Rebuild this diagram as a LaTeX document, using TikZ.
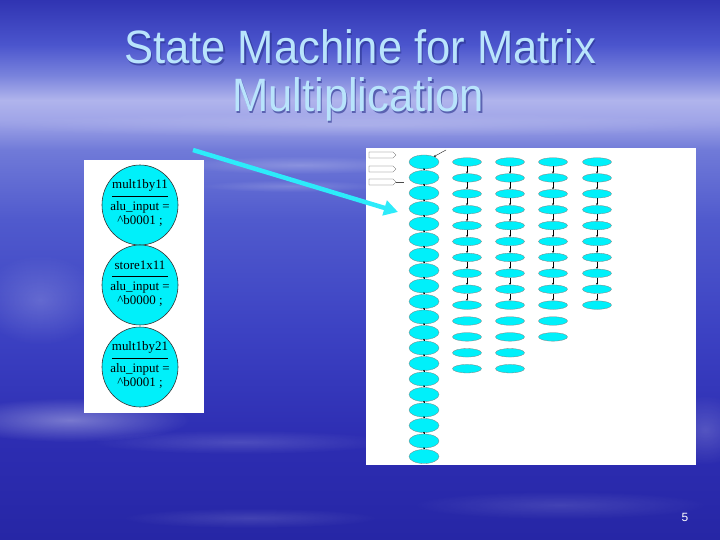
\documentclass[tikz,border=0pt]{standalone}
\usepackage{fontspec}
\setmainfont{Liberation Serif}
\newfontfamily\titlefont{Liberation Sans}
\usetikzlibrary{arrows.meta,positioning,shapes.geometric,shapes.symbols,calc,fadings}
\definecolor{statecyan}{RGB}{0,240,250}
\definecolor{arrowcyan}{RGB}{45,235,250}
\definecolor{titleblue}{RGB}{185,228,252}
\definecolor{titleshade}{RGB}{40,50,140}
\definecolor{bg0}{RGB}{38,38,165}
\definecolor{bg1}{RGB}{45,45,178}
\definecolor{bg2}{RGB}{60,66,195}
\definecolor{bg3}{RGB}{80,90,205}
\definecolor{bg4}{RGB}{112,122,216}
\definecolor{bg5}{RGB}{160,165,232}
\definecolor{bg6}{RGB}{176,180,236}
\definecolor{bg7}{RGB}{120,130,220}
\definecolor{bg8}{RGB}{75,85,205}
\definecolor{bg9}{RGB}{48,52,178}
\pgfdeclareverticalshading{slidebg}{100bp}{color(0bp)=(bg0); color(25bp)=(bg0); color(34.26bp)=(bg1); color(44.44bp)=(bg2); color(54.63bp)=(bg3); color(61.11bp)=(bg4); color(63.89bp)=(bg5); color(65.74bp)=(bg6); color(68.06bp)=(bg7); color(70.83bp)=(bg8); color(75bp)=(bg9); color(100bp)=(bg9)}
\tikzfading[name=softedge, inner color=transparent!0, outer color=transparent!100]

\begin{document}
\begin{tikzpicture}[x=1bp, y=-1bp,
  stcirc/.style={ellipse, draw=black!80, fill=statecyan, line width=0.6pt, minimum width=76bp, minimum height=80bp, inner sep=0pt},
  sttext/.style={font=\fontsize{13}{14}\selectfont, inner sep=0pt},
  bigstate/.style={ellipse, draw=black!50, fill=statecyan, line width=0.3pt, minimum width=30bp, minimum height=14bp, inner sep=0pt},
  smallstate/.style={ellipse, draw=black!50, fill=statecyan, line width=0.3pt, minimum width=29bp, minimum height=8.5bp, inner sep=0pt},
  tinyarrow/.style={-{Stealth[length=2bp,width=2bp]}, line width=0.35pt, black},
  legendbox/.style={signal, signal to=east, draw=black!70, fill=white, line width=0.3pt, minimum width=27bp, minimum height=6bp, inner sep=0pt},
  haze/.style={white, path fading=softedge},
  titletext/.style={font=\titlefont\fontsize{47}{50}\selectfont, anchor=base, inner sep=0pt}]
\useasboundingbox (0,0) rectangle (720,540);
% slide background
\shade[shading=slidebg] (0,0) rectangle (720,540);
\fill[haze, opacity=0.18] (360,125) ellipse (380 and 12);
\fill[haze, opacity=0.22] (300,165) ellipse (120 and 9);
\fill[haze, opacity=0.18] (290,186) ellipse (90 and 6);
\fill[haze, opacity=0.18] (40,300) ellipse (60 and 45);
\fill[haze, opacity=0.35] (70,420) ellipse (120 and 22);
\fill[haze, opacity=0.15] (240,442) ellipse (150 and 12);
\fill[haze, opacity=0.12] (250,518) ellipse (130 and 10);
\fill[haze, opacity=0.12] (560,505) ellipse (150 and 14);
\fill[haze, opacity=0.18] (705,430) ellipse (40 and 35);
% title
\foreach \txt/\x/\y in {State Machine for Matrix/360/64, Multiplication/358/112} {
  \node[titletext, text=titleshade, opacity=0.6] at (\x+1.5,\y+1.5) {\scalebox{0.93}[1]{\txt}};
  \node[titletext, text=titleblue] at (\x,\y) {\scalebox{0.93}[1]{\txt}};
}
% left panel: three states
\fill[white] (84,160) rectangle (204,413);
\foreach \i/\y/\nm/\val in {1/205/mult1by11/0001, 2/285/store1x11/0000, 3/367/mult1by21/0001} {
  \node[stcirc] (s\i) at (140,\y) {};
  \node[sttext] (s\i name) at ($(s\i)+(0,-20)$) {\nm};
  \draw[line width=0.5pt] ($(s\i)+(-28,-9)$) -- ($(s\i)+(28,-9)$);
  \node[sttext] (s\i act) at ($(s\i)+(0,2)$) {alu\_input =};
  \node[sttext] (s\i val) at ($(s\i)+(0,16)$) {\textasciicircum b\val\ ;};
}
% right panel: full state machine
\fill[white] (366,148) rectangle (696,465);
\node[legendbox] (k1) at (381,155) {};
\node[legendbox] (k2) at (381,169) {};
\node[legendbox] (k3) at (381,182) {};
\coordinate (k3end) at (404,182);
\draw[line width=0.3pt, black!70] (k3.east) -- (k3end);
\foreach \i in {1,...,20}
  \node[bigstate] (c0-\i) at (424,{162+15.5*(\i-1)}) {};
\foreach \i [evaluate=\i as \j using int(\i+1)] in {1,...,19}
  \draw[tinyarrow] (c0-\i) -- (c0-\j);
\coordinate (rst) at (446,150);
\draw[tinyarrow] (rst) -- (c0-1);
\foreach \c/\x/\n in {1/467/14, 2/510/14, 3/553/12, 4/597/10} {
  \foreach \i in {1,...,\n}
    \node[smallstate] (c\c-\i) at (\x,{162+15.9*(\i-1)}) {};
  \foreach \i [evaluate=\i as \j using int(\i+1)] in {1,...,9}
    \draw[tinyarrow] (c\c-\i) -- (c\c-\j);
}
% pointer from the zoomed states to the full machine
\coordinate (ptrstart) at (193,150);
\coordinate (ptrend) at (398,212);
\draw[arrowcyan, line width=4.5bp, -{Triangle[length=14bp,width=15bp]}] (ptrstart) -- (ptrend);
\node[text=white, font=\titlefont\fontsize{12}{12}\selectfont] (pagenum) at (685,517) {5};
\end{tikzpicture}
\end{document}
